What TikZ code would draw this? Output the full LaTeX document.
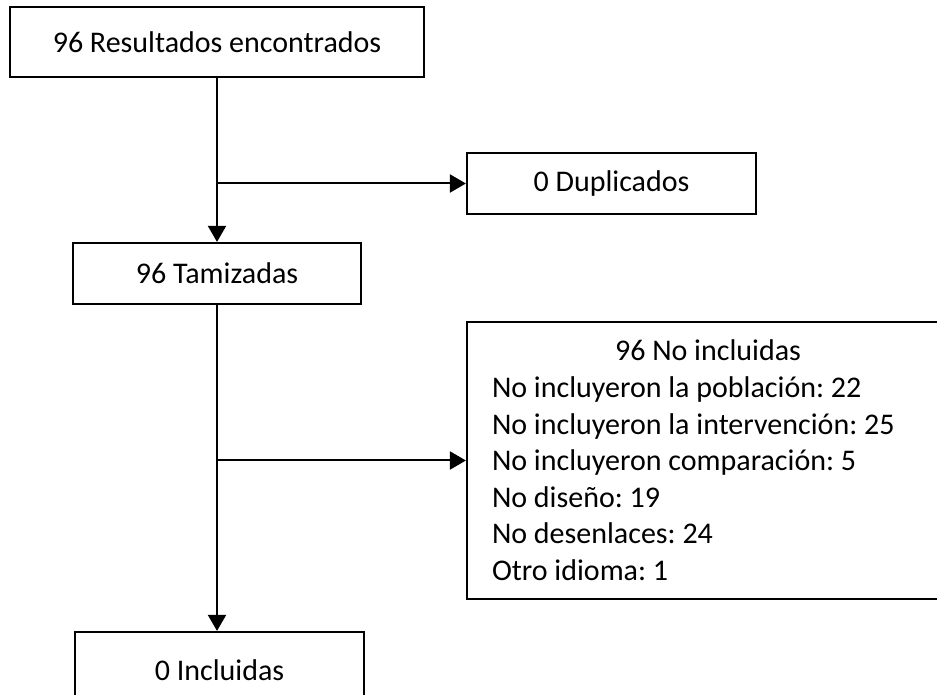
\documentclass[tikz,border=0pt]{standalone}
\usepackage{fontspec}
\setmainfont{Carlito}
\usetikzlibrary{arrows.meta,calc}
\tikzset{
  box/.style={draw=black, line width=2.2pt, align=center, inner sep=0pt,
              font=\fontsize{30}{36.6}\selectfont\frenchspacing},
  arr/.style={-{Triangle[length=16pt, width=18pt]}, draw=black, line width=2pt},
}
\begin{document}
\begin{tikzpicture}[x=1pt, y=1pt]
  \useasboundingbox (0,0) rectangle (937,694);
  % main column
  \node[box, minimum width=414pt, minimum height=70pt] (found) at (217,652) {96 Resultados encontrados};
  \node[box, minimum width=288pt, minimum height=61pt] (screen) at (217,420.5) {96 Tamizadas};
  \node[box, minimum width=289pt, minimum height=76pt] (incl) at (219.5,24) {0 Incluidas};
  % side boxes
  \node[box, minimum width=289pt, minimum height=61pt] (dup) at (611.5,510.5) {0 Duplicados};
  \node[box, minimum width=482pt, minimum height=277pt, text width=432pt,
        inner xsep=25pt, align=left] (excl) at (708,233.5)
    {\spaceskip=0pt \xspaceskip=0pt
     \centering 96 No incluidas\par\raggedright
     No incluyeron la población: 22\\
     No incluyeron la intervención: 25\\
     No incluyeron comparación: 5\\
     No diseño: 19\\
     No desenlaces: 24\\
     Otro idioma: 1};

  % branches off the main column
  \coordinate (fork1) at (found.south |- dup.west);
  \coordinate (fork2) at (screen.south |- excl.west);
  \draw[arr] (found.south) -- (screen.north);
  \draw[arr] (fork1) -- (dup.west);
  \draw[arr] (screen.south) -- (screen.south |- incl.north);
  \draw[arr] (fork2) -- (excl.west);
\end{tikzpicture}
\end{document}
